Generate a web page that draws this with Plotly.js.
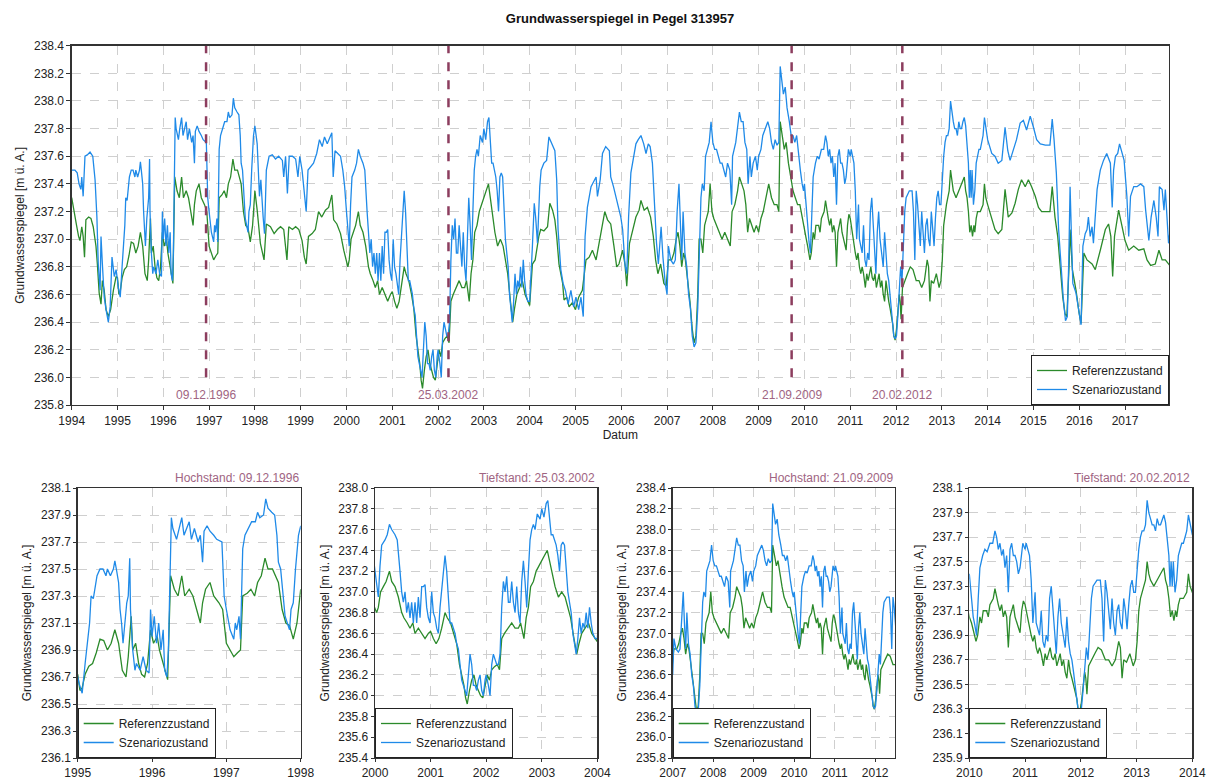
<!DOCTYPE html>
<html><head><meta charset="utf-8">
<script src="https://cdn.plot.ly/plotly-3.0.1.min.js"></script>
<style>html,body{margin:0;padding:0;background:#fff}#chart{width:1212px;height:780px}</style>
</head><body><div id="chart"></div>
<script>
// Szenariozustand (blue): [decimal year, m ü. A.]
const szenariozustand = [
[1994.00,237.50],[1994.07,237.50],[1994.12,237.48],[1994.16,237.40],[1994.20,237.36],[1994.22,237.45],[1994.25,237.31],[1994.29,237.60],[1994.34,237.61],[1994.40,237.63],[1994.46,237.60],[1994.51,237.43],[1994.55,237.16],[1994.58,236.82],[1994.62,236.63],[1994.64,237.02],[1994.67,236.82],[1994.71,236.58],[1994.75,236.49],[1994.80,236.40],[1994.84,236.51],[1994.88,236.87],[1994.93,236.73],[1994.97,236.78],
[1995.02,236.65],[1995.06,236.58],[1995.10,236.80],[1995.13,236.95],[1995.16,237.10],[1995.18,237.30],[1995.21,237.28],[1995.26,237.45],[1995.30,237.50],[1995.34,237.50],[1995.38,237.45],[1995.40,237.50],[1995.44,237.45],[1995.48,237.50],[1995.50,237.56],[1995.52,237.50],[1995.55,237.40],[1995.57,237.20],[1995.59,237.10],[1995.61,236.95],[1995.64,237.15],[1995.66,237.25],[1995.68,237.30],[1995.70,237.58],[1995.71,237.20],[1995.74,236.90],[1995.77,236.75],[1995.79,236.80],[1995.84,236.75],[1995.88,236.85],[1995.92,236.75],[1995.96,236.73],[1995.98,237.20],
[1996.00,237.00],[1996.03,237.15],[1996.06,236.95],[1996.09,237.10],[1996.12,236.90],[1996.15,237.05],[1996.17,236.75],[1996.20,236.70],[1996.22,236.90],[1996.26,237.88],[1996.28,237.80],[1996.33,237.72],[1996.36,237.80],[1996.40,237.88],[1996.43,237.75],[1996.47,237.80],[1996.50,237.85],[1996.53,237.72],[1996.57,237.80],[1996.62,237.70],[1996.65,237.75],[1996.68,237.55],[1996.70,237.78],[1996.74,237.82],[1996.78,237.78],[1996.83,237.75],[1996.87,237.72],[1996.94,237.70],[1996.97,237.30],
[1997.00,237.20],[1997.05,237.05],[1997.10,236.98],[1997.12,237.10],[1997.14,237.05],[1997.17,237.15],[1997.19,236.98],[1997.22,237.65],[1997.25,237.75],[1997.30,237.80],[1997.34,237.85],[1997.39,237.85],[1997.42,237.92],[1997.45,237.88],[1997.50,237.90],[1997.53,238.02],[1997.56,237.95],[1997.61,237.92],[1997.65,237.90],[1997.68,237.75],[1997.70,237.55],[1997.73,237.50],[1997.77,237.30],[1997.79,237.15],[1997.82,237.10],[1997.85,237.05],[1997.87,237.20],[1997.90,237.25],[1997.93,237.50],[1997.97,237.75],
[1998.00,237.82],[1998.05,237.69],[1998.10,237.31],[1998.13,237.43],[1998.18,237.16],[1998.21,237.04],[1998.25,237.50],[1998.31,237.60],[1998.38,237.61],[1998.45,237.58],[1998.52,237.60],[1998.60,237.57],[1998.63,237.45],[1998.67,237.60],[1998.71,237.33],[1998.75,237.60],[1998.82,237.60],[1998.89,237.58],[1998.94,237.45],[1998.98,237.60],
[1999.03,237.50],[1999.08,237.31],[1999.12,237.20],[1999.16,237.50],[1999.21,237.52],[1999.28,237.55],[1999.35,237.62],[1999.41,237.72],[1999.47,237.67],[1999.52,237.74],[1999.58,237.69],[1999.64,237.74],[1999.68,237.77],[1999.71,237.45],[1999.75,237.64],[1999.81,237.62],[1999.87,237.60],[1999.92,237.50],[1999.96,237.38],
[2000.00,237.20],[2000.03,237.05],[2000.06,236.95],[2000.09,237.25],[2000.12,237.45],[2000.18,237.50],[2000.22,237.55],[2000.26,237.65],[2000.30,237.60],[2000.36,237.55],[2000.40,237.50],[2000.45,237.20],[2000.48,237.00],[2000.51,236.90],[2000.54,237.00],[2000.57,236.80],[2000.60,236.90],[2000.63,236.75],[2000.66,236.90],[2000.69,236.70],[2000.72,236.90],[2000.75,236.70],[2000.78,236.95],[2000.81,236.75],[2000.84,237.05],[2000.87,237.05],[2000.90,237.07],[2000.93,236.85],[2000.96,236.75],[2000.99,236.70],
[2001.02,237.00],[2001.05,236.80],[2001.08,236.75],[2001.11,236.65],[2001.14,236.60],[2001.17,236.85],[2001.20,237.00],[2001.23,237.20],[2001.26,237.35],[2001.29,237.20],[2001.32,236.90],[2001.35,236.70],[2001.38,236.70],[2001.41,236.65],[2001.44,236.60],[2001.47,236.50],[2001.50,236.45],[2001.53,236.30],[2001.56,236.15],[2001.59,236.10],[2001.62,236.05],[2001.65,236.00],[2001.68,236.20],[2001.71,236.40],[2001.74,236.30],[2001.77,236.10],[2001.80,236.10],[2001.83,236.05],[2001.86,236.15],[2001.89,236.20],[2001.92,236.05],[2001.95,236.00],[2001.98,236.15],
[2002.00,236.20],[2002.04,236.10],[2002.07,236.00],[2002.10,236.30],[2002.13,236.40],[2002.16,236.35],[2002.19,236.30],[2002.22,236.30],[2002.25,236.40],[2002.28,236.85],[2002.31,237.10],[2002.34,237.00],[2002.37,237.15],[2002.40,236.90],[2002.43,236.90],[2002.46,237.10],[2002.49,236.90],[2002.52,236.80],[2002.55,237.05],[2002.58,236.80],[2002.61,236.70],[2002.64,237.10],[2002.67,237.30],[2002.70,237.10],[2002.73,236.85],[2002.76,237.20],[2002.79,237.50],[2002.82,237.60],[2002.85,237.65],[2002.88,237.60],[2002.92,237.75],[2002.97,237.70],
[2003.00,237.80],[2003.04,237.72],[2003.08,237.85],[2003.11,237.88],[2003.14,237.70],[2003.17,237.55],[2003.20,237.55],[2003.23,237.50],[2003.26,237.45],[2003.29,237.35],[2003.32,237.20],[2003.35,237.45],[2003.38,237.48],[2003.41,237.45],[2003.44,237.20],[2003.47,237.00],[2003.50,236.90],[2003.53,236.80],[2003.56,236.60],[2003.59,236.50],[2003.62,236.40],[2003.65,236.55],[2003.68,236.75],[2003.71,236.60],[2003.74,236.70],[2003.77,236.65],[2003.80,236.80],[2003.83,236.65],[2003.86,236.85],[2003.89,236.70],[2003.92,236.60],[2003.96,236.55],
[2004.00,236.55],[2004.06,236.95],[2004.10,237.26],[2004.13,237.16],[2004.17,236.97],[2004.22,237.38],[2004.25,237.50],[2004.31,237.55],[2004.37,237.57],[2004.42,237.74],[2004.49,237.69],[2004.55,237.64],[2004.59,237.43],[2004.62,237.07],[2004.68,236.78],[2004.73,236.68],[2004.78,236.63],[2004.84,236.53],[2004.90,236.63],[2004.96,236.51],
[2005.01,236.58],[2005.07,236.49],[2005.12,236.58],[2005.17,236.44],[2005.21,237.02],[2005.26,237.23],[2005.34,237.38],[2005.45,237.45],[2005.48,237.31],[2005.54,237.43],[2005.59,237.62],[2005.66,237.67],[2005.74,237.64],[2005.77,237.45],[2005.83,237.38],[2005.88,237.31],[2005.93,237.23],[2005.99,237.16],
[2006.03,237.07],[2006.08,236.82],[2006.12,236.75],[2006.16,237.16],[2006.21,237.48],[2006.27,237.60],[2006.32,237.69],[2006.37,237.72],[2006.43,237.75],[2006.49,237.69],[2006.54,237.62],[2006.59,237.69],[2006.63,237.67],[2006.68,237.55],[2006.72,237.26],[2006.77,236.97],[2006.81,236.82],[2006.87,237.09],[2006.91,236.87],[2006.96,236.68],
[2007.00,236.60],[2007.03,236.95],[2007.08,236.85],[2007.14,236.82],[2007.18,236.85],[2007.22,237.20],[2007.26,237.40],[2007.29,237.10],[2007.32,236.85],[2007.35,237.20],[2007.39,236.90],[2007.43,236.80],[2007.47,236.60],[2007.51,236.50],[2007.55,236.30],[2007.59,236.22],[2007.63,236.25],[2007.67,236.50],[2007.70,236.90],[2007.74,237.30],[2007.77,237.40],[2007.81,237.35],[2007.84,237.60],[2007.88,237.65],[2007.92,237.70],[2007.96,237.85],
[2008.00,237.70],[2008.04,237.65],[2008.08,237.65],[2008.12,237.60],[2008.16,237.55],[2008.20,237.55],[2008.24,237.50],[2008.28,237.45],[2008.32,237.55],[2008.37,237.50],[2008.41,237.25],[2008.43,237.60],[2008.50,237.70],[2008.54,237.80],[2008.58,237.92],[2008.62,237.85],[2008.66,237.85],[2008.70,237.70],[2008.74,237.65],[2008.77,237.40],[2008.81,237.60],[2008.84,237.45],[2008.88,237.55],[2008.93,237.60],[2008.97,237.50],
[2009.00,237.60],[2009.05,237.65],[2009.09,237.75],[2009.14,237.80],[2009.20,237.85],[2009.24,237.80],[2009.28,237.70],[2009.32,237.65],[2009.36,237.72],[2009.40,237.68],[2009.44,237.70],[2009.47,238.25],[2009.51,238.15],[2009.54,238.05],[2009.58,238.10],[2009.62,237.95],[2009.67,237.85],[2009.71,237.75],[2009.75,237.75],[2009.79,237.70],[2009.83,237.75],[2009.87,237.60],[2009.91,237.50],[2009.95,237.40],[2009.98,237.35],
[2010.00,237.40],[2010.04,237.20],[2010.07,237.05],[2010.10,236.98],[2010.13,236.90],[2010.16,237.20],[2010.19,237.45],[2010.24,237.55],[2010.28,237.60],[2010.32,237.58],[2010.37,237.65],[2010.42,237.65],[2010.46,237.75],[2010.49,237.70],[2010.52,237.60],[2010.55,237.65],[2010.58,237.55],[2010.61,237.60],[2010.64,237.45],[2010.67,237.55],[2010.70,237.25],[2010.73,237.60],[2010.76,237.65],[2010.79,237.55],[2010.82,237.55],[2010.85,237.50],[2010.88,237.40],[2010.91,237.45],[2010.94,237.60],[2010.96,237.65],
[2011.00,237.60],[2011.02,237.65],[2011.05,237.60],[2011.08,237.55],[2011.11,237.35],[2011.14,237.00],[2011.18,237.25],[2011.20,237.00],[2011.23,236.95],[2011.26,236.90],[2011.29,237.10],[2011.32,236.85],[2011.35,236.80],[2011.38,236.90],[2011.41,236.85],[2011.44,237.20],[2011.47,237.30],[2011.50,237.10],[2011.53,236.90],[2011.56,236.75],[2011.59,237.05],[2011.62,237.20],[2011.65,237.00],[2011.68,236.90],[2011.72,236.80],[2011.75,237.05],[2011.78,236.85],[2011.81,236.75],[2011.84,236.70],[2011.87,236.60],[2011.90,236.50],[2011.93,236.40],[2011.95,236.30],[2011.98,236.28],
[2012.01,236.30],[2012.04,236.45],[2012.07,236.65],[2012.10,236.80],[2012.13,236.70],[2012.16,237.00],[2012.19,237.20],[2012.22,237.30],[2012.29,237.35],[2012.35,237.35],[2012.38,237.20],[2012.41,236.85],[2012.44,237.35],[2012.47,237.25],[2012.50,237.10],[2012.53,236.95],[2012.56,237.20],[2012.59,237.00],[2012.62,236.90],[2012.65,237.10],[2012.68,237.15],[2012.71,237.00],[2012.74,236.95],[2012.77,237.20],[2012.80,237.10],[2012.83,236.95],[2012.86,237.15],[2012.89,237.30],[2012.92,237.35],[2012.95,237.25],[2012.98,237.25],
[2013.01,237.45],[2013.04,237.60],[2013.07,237.70],[2013.10,237.75],[2013.13,237.75],[2013.16,237.80],[2013.19,238.00],[2013.22,237.90],[2013.25,237.85],[2013.28,237.80],[2013.31,237.80],[2013.34,237.75],[2013.37,237.85],[2013.40,237.80],[2013.43,237.80],[2013.46,237.85],[2013.49,237.88],[2013.52,237.82],[2013.55,237.70],[2013.58,237.55],[2013.60,237.30],[2013.62,237.50],[2013.64,237.30],[2013.66,237.50],[2013.69,237.25],[2013.72,237.35],[2013.75,237.55],[2013.78,237.60],[2013.81,237.65],[2013.84,237.65],[2013.87,237.70],[2013.90,237.75],[2013.93,237.88],[2013.96,237.80],
[2014.00,237.72],[2014.09,237.62],[2014.16,237.60],[2014.23,237.55],[2014.31,237.57],[2014.38,237.81],[2014.44,237.64],[2014.49,237.57],[2014.56,237.64],[2014.63,237.72],[2014.71,237.84],[2014.78,237.86],[2014.85,237.79],[2014.93,237.89],
[2015.00,237.81],[2015.07,237.72],[2015.15,237.69],[2015.26,237.68],[2015.36,237.68],[2015.41,237.87],[2015.45,237.72],[2015.50,237.48],[2015.55,237.07],[2015.60,236.78],[2015.65,236.58],[2015.70,236.41],[2015.74,236.44],[2015.77,236.82],[2015.80,237.38],[2015.83,237.02],[2015.86,236.68],[2015.93,236.61],
[2016.00,236.46],[2016.04,236.38],[2016.08,236.95],[2016.13,237.04],[2016.17,237.07],[2016.20,237.16],[2016.24,237.02],[2016.28,237.09],[2016.31,236.97],[2016.35,237.16],[2016.39,237.36],[2016.46,237.50],[2016.53,237.57],[2016.60,237.62],[2016.68,237.55],[2016.72,237.23],[2016.75,237.50],[2016.79,237.60],[2016.84,237.62],[2016.88,237.69],[2016.93,237.62],[2016.98,237.57],
[2017.04,237.31],[2017.08,237.02],[2017.12,237.31],[2017.19,237.38],[2017.26,237.38],[2017.34,237.40],[2017.41,237.38],[2017.45,237.21],[2017.52,236.99],[2017.57,237.16],[2017.63,237.28],[2017.68,237.16],[2017.72,237.02],[2017.75,237.38],[2017.81,237.36],[2017.85,237.21],[2017.88,237.36],[2017.92,237.07],[2017.95,236.97],[2018.00,237.11]
];

// Referenzzustand (green): [decimal year, m ü. A.]
const referenzzustand = [
[1994.00,237.30],[1994.04,237.21],[1994.10,237.11],[1994.15,237.02],[1994.18,236.99],[1994.22,237.09],[1994.25,237.02],[1994.28,236.87],[1994.31,237.14],[1994.37,237.16],[1994.42,237.15],[1994.47,237.09],[1994.53,236.95],[1994.56,236.82],[1994.60,236.61],[1994.64,236.53],[1994.67,236.70],[1994.71,236.63],[1994.75,236.49],[1994.80,236.44],[1994.85,236.49],[1994.91,236.63],[1994.97,236.73],
[1995.00,236.72],[1995.03,236.60],[1995.06,236.62],[1995.10,236.72],[1995.15,236.78],[1995.20,236.80],[1995.25,236.88],[1995.30,236.98],[1995.35,236.97],[1995.40,236.90],[1995.45,236.95],[1995.50,237.05],[1995.55,236.95],[1995.60,236.75],[1995.65,236.70],[1995.68,236.85],[1995.72,237.15],[1995.74,236.90],[1995.78,236.95],[1995.82,236.80],[1995.86,236.72],[1995.90,236.70],[1995.94,236.80],[1995.98,237.05],
[1996.02,236.95],[1996.07,237.00],[1996.10,236.90],[1996.15,236.80],[1996.18,236.72],[1996.21,236.68],[1996.25,237.45],[1996.30,237.35],[1996.35,237.30],[1996.40,237.45],[1996.44,237.30],[1996.50,237.35],[1996.55,237.30],[1996.60,237.20],[1996.65,237.10],[1996.68,237.25],[1996.72,237.35],[1996.78,237.40],[1996.83,237.30],[1996.90,237.25],[1996.95,237.20],
[1997.00,236.95],[1997.05,236.90],[1997.10,236.85],[1997.15,236.88],[1997.19,236.90],[1997.22,237.30],[1997.28,237.32],[1997.33,237.35],[1997.38,237.30],[1997.42,237.40],[1997.47,237.45],[1997.52,237.58],[1997.56,237.50],[1997.62,237.50],[1997.66,237.45],[1997.70,237.40],[1997.75,237.20],[1997.80,237.10],[1997.85,237.08],[1997.90,236.98],[1997.95,237.10],
[1998.00,237.35],[1998.05,237.21],[1998.12,236.97],[1998.20,236.85],[1998.25,237.11],[1998.34,237.09],[1998.42,237.04],[1998.49,237.07],[1998.56,237.09],[1998.63,237.07],[1998.68,236.92],[1998.70,236.85],[1998.74,237.09],[1998.82,237.07],[1998.89,237.09],[1998.96,237.07],
[1999.03,236.99],[1999.08,236.87],[1999.12,236.82],[1999.17,237.02],[1999.25,237.04],[1999.32,237.07],[1999.39,237.20],[1999.46,237.16],[1999.54,237.21],[1999.61,237.23],[1999.68,237.32],[1999.72,237.14],[1999.79,237.11],[1999.87,237.04],[1999.94,236.92],
[2000.00,236.85],[2000.03,236.80],[2000.06,236.85],[2000.10,237.00],[2000.15,237.05],[2000.20,237.10],[2000.26,237.20],[2000.30,237.10],[2000.36,237.05],[2000.42,236.95],[2000.48,236.80],[2000.52,236.75],[2000.58,236.70],[2000.63,236.65],[2000.68,236.70],[2000.72,236.60],[2000.78,236.65],[2000.84,236.60],[2000.90,236.55],[2000.96,236.60],
[2001.00,236.62],[2001.05,236.55],[2001.10,236.50],[2001.15,236.55],[2001.20,236.65],[2001.26,236.80],[2001.30,236.75],[2001.36,236.70],[2001.42,236.60],[2001.47,236.50],[2001.52,236.30],[2001.56,236.20],[2001.60,236.10],[2001.63,235.98],[2001.66,235.92],[2001.70,236.05],[2001.74,236.15],[2001.78,236.20],[2001.82,236.10],[2001.86,236.05],[2001.90,236.00],[2001.94,235.98],[2001.98,236.10],
[2002.02,236.20],[2002.06,236.15],[2002.10,236.25],[2002.15,236.28],[2002.20,236.30],[2002.24,236.25],[2002.28,236.55],[2002.33,236.60],[2002.40,236.65],[2002.46,236.70],[2002.52,236.65],[2002.58,236.65],[2002.62,236.70],[2002.66,236.60],[2002.68,236.55],[2002.72,236.75],[2002.76,236.85],[2002.80,237.05],[2002.85,237.10],[2002.90,237.20],[2002.95,237.25],
[2003.00,237.30],[2003.05,237.35],[2003.10,237.40],[2003.14,237.30],[2003.18,237.20],[2003.24,237.05],[2003.30,236.95],[2003.36,237.00],[2003.42,236.95],[2003.47,236.85],[2003.52,236.75],[2003.58,236.55],[2003.63,236.40],[2003.67,236.50],[2003.72,236.60],[2003.78,236.65],[2003.84,236.70],[2003.90,236.60],[2003.96,236.55],
[2004.00,236.52],[2004.06,236.82],[2004.12,236.85],[2004.20,237.02],[2004.24,237.07],[2004.31,237.06],[2004.39,237.09],[2004.44,237.26],[2004.50,237.21],[2004.55,237.14],[2004.59,237.02],[2004.64,236.82],[2004.72,236.68],[2004.75,236.56],[2004.81,236.58],[2004.86,236.51],[2004.93,236.54],
[2005.00,236.49],[2005.07,236.58],[2005.15,236.63],[2005.23,236.85],[2005.30,236.87],[2005.37,236.92],[2005.45,236.85],[2005.52,236.97],[2005.59,237.11],[2005.64,237.20],[2005.70,237.14],[2005.77,237.11],[2005.84,236.95],[2005.90,236.80],[2005.95,236.82],
[2006.03,236.92],[2006.08,236.82],[2006.12,236.66],[2006.18,236.97],[2006.25,237.07],[2006.32,237.16],[2006.39,237.21],[2006.43,237.28],[2006.50,237.21],[2006.57,237.23],[2006.64,237.16],[2006.70,237.02],[2006.75,236.85],[2006.80,236.75],[2006.86,236.82],[2006.93,236.68],[2006.98,236.66],
[2007.03,236.85],[2007.10,236.85],[2007.15,236.90],[2007.20,237.00],[2007.24,237.05],[2007.28,236.95],[2007.32,236.80],[2007.36,236.90],[2007.40,236.85],[2007.45,236.70],[2007.50,236.55],[2007.55,236.35],[2007.59,236.25],[2007.63,236.30],[2007.67,236.60],[2007.70,237.00],[2007.74,237.00],[2007.78,236.90],[2007.82,237.10],[2007.86,237.15],[2007.90,237.20],[2007.94,237.40],[2007.98,237.20],
[2008.02,237.15],[2008.08,237.10],[2008.14,237.05],[2008.20,237.00],[2008.26,237.05],[2008.32,237.00],[2008.38,236.95],[2008.42,237.20],[2008.48,237.25],[2008.54,237.35],[2008.58,237.45],[2008.63,237.40],[2008.68,237.35],[2008.72,237.25],[2008.76,237.05],[2008.80,237.15],[2008.85,237.10],[2008.90,237.05],[2008.95,237.10],
[2009.00,237.05],[2009.05,237.15],[2009.10,237.20],[2009.16,237.30],[2009.22,237.40],[2009.28,237.30],[2009.34,237.25],[2009.40,237.25],[2009.44,237.20],[2009.47,237.85],[2009.52,237.75],[2009.56,237.65],[2009.60,237.70],[2009.65,237.55],[2009.70,237.45],[2009.75,237.35],[2009.80,237.30],[2009.85,237.25],[2009.90,237.25],[2009.95,237.15],
[2010.00,237.05],[2010.04,237.00],[2010.07,236.95],[2010.12,236.85],[2010.15,236.90],[2010.19,237.05],[2010.22,237.00],[2010.25,237.10],[2010.31,237.10],[2010.34,237.05],[2010.37,237.15],[2010.43,237.20],[2010.46,237.28],[2010.49,237.20],[2010.52,237.15],[2010.55,237.10],[2010.58,237.15],[2010.61,237.05],[2010.64,237.10],[2010.67,237.05],[2010.70,236.80],[2010.73,237.05],[2010.76,237.10],[2010.79,237.15],[2010.82,237.05],[2010.85,237.00],[2010.88,236.95],[2010.91,236.92],[2010.94,237.10],[2010.97,237.18],
[2011.00,237.15],[2011.02,237.10],[2011.05,237.05],[2011.08,236.95],[2011.11,236.90],[2011.14,236.85],[2011.17,236.90],[2011.20,236.80],[2011.23,236.75],[2011.26,236.80],[2011.29,236.75],[2011.33,236.65],[2011.36,236.75],[2011.39,236.70],[2011.42,236.75],[2011.45,236.80],[2011.48,236.72],[2011.51,236.70],[2011.54,236.75],[2011.57,236.65],[2011.60,236.70],[2011.63,236.75],[2011.66,236.65],[2011.69,236.70],[2011.72,236.60],[2011.75,236.55],[2011.78,236.70],[2011.81,236.60],[2011.84,236.55],[2011.87,236.50],[2011.90,236.45],[2011.93,236.38],[2011.95,236.30],[2011.98,236.27],
[2012.01,236.35],[2012.04,236.50],[2012.07,236.60],[2012.09,236.55],[2012.11,236.42],[2012.14,236.65],[2012.19,236.70],[2012.25,236.75],[2012.31,236.80],[2012.37,236.78],[2012.44,236.70],[2012.50,236.70],[2012.56,236.65],[2012.62,236.70],[2012.68,236.85],[2012.71,236.80],[2012.74,236.55],[2012.77,236.70],[2012.82,236.68],[2012.88,236.75],[2012.91,236.70],[2012.94,236.65],[2012.98,236.70],
[2013.01,236.85],[2013.04,237.10],[2013.07,237.20],[2013.10,237.25],[2013.13,237.30],[2013.16,237.35],[2013.19,237.50],[2013.22,237.40],[2013.25,237.35],[2013.31,237.30],[2013.37,237.35],[2013.43,237.40],[2013.49,237.45],[2013.52,237.35],[2013.55,237.30],[2013.58,237.20],[2013.61,237.05],[2013.64,237.10],[2013.67,237.02],[2013.70,237.10],[2013.72,237.05],[2013.75,237.15],[2013.78,237.20],[2013.84,237.20],[2013.90,237.25],[2013.93,237.40],[2013.96,237.30],
[2014.00,237.25],[2014.09,237.14],[2014.16,237.07],[2014.23,237.04],[2014.31,237.07],[2014.38,237.36],[2014.45,237.16],[2014.53,237.19],[2014.60,237.26],[2014.67,237.36],[2014.74,237.43],[2014.82,237.38],[2014.89,237.43],[2014.96,237.38],
[2015.04,237.31],[2015.11,237.23],[2015.18,237.20],[2015.26,237.20],[2015.36,237.20],[2015.41,237.38],[2015.47,237.16],[2015.53,237.02],[2015.58,236.82],[2015.64,236.58],[2015.69,236.46],[2015.73,236.44],[2015.78,236.82],[2015.80,237.07],[2015.85,236.78],[2015.93,236.63],
[2016.00,236.46],[2016.04,236.39],[2016.10,236.90],[2016.17,236.85],[2016.28,236.82],[2016.35,236.78],[2016.46,236.92],[2016.57,237.07],[2016.64,237.11],[2016.69,237.02],[2016.73,236.73],[2016.77,237.02],[2016.86,237.21],[2016.93,237.11],
[2017.00,236.99],[2017.08,236.92],[2017.19,236.95],[2017.30,236.92],[2017.41,236.93],[2017.48,236.85],[2017.56,236.81],[2017.66,236.82],[2017.74,236.92],[2017.81,236.85],[2017.88,236.85],[2018.00,236.80]
];

const seriesNames = ['Referenzzustand', 'Szenariozustand'];
const eventDates = [1996.934, 2002.227, 2009.72, 2012.137];
const eventLabels = ['09.12.1996', '25.03.2002', '21.09.2009', '20.02.2012'];
const panelTitles = ['Hochstand: 09.12.1996', 'Tiefstand: 25.03.2002', 'Hochstand: 21.09.2009', 'Tiefstand: 20.02.2012'];
const chartTitle = 'Grundwasserspiegel in Pegel 313957';
const yTitle = 'Grundwasserspiegel [m ü. A.]';
const xTitle = 'Datum';

// ---- layout (pixels in a 1212x780 page) ----
const W = 1212, H = 780;
const GREEN = '#2b8a2b', BLUE = '#1f8ae8', EVENT = '#8c3d5e', EVENT_TXT = '#a06482';
const panels = [
  {x: [71.7, 1169], y: [45.7, 405], xr: [1994, 2017.96], yr: [235.8, 238.4], t0: 235.8},
  {x: [77.7, 300.7], y: [488, 758], xr: [1995, 1998], yr: [236.1, 238.1], t0: 236.1},
  {x: [375, 597.3], y: [488, 758], xr: [2000, 2004], yr: [235.4, 238.0], t0: 235.4},
  {x: [672.7, 895], y: [488, 758], xr: [2007, 2012.49], yr: [235.8, 238.4], t0: 235.8},
  {x: [969.3, 1192.3], y: [488, 758], xr: [2010, 2014], yr: [235.9, 238.1], t0: 235.9}
];
const px = v => v / W, py = v => 1 - v / H;
const FONT = 'Liberation Sans, Arial, sans-serif';

const refX = referenzzustand.map(p => p[0]), refY = referenzzustand.map(p => p[1]);
const szX = szenariozustand.map(p => p[0]), szY = szenariozustand.map(p => p[1]);

const data = [];
const layout = {
  width: W, height: H, autosize: false,
  margin: {l: 0, r: 0, t: 0, b: 0},
  paper_bgcolor: '#fff', plot_bgcolor: '#fff',
  font: {family: FONT, size: 12, color: '#222'},
  title: {text: '<b>' + chartTitle + '</b>', x: 620 / W, xanchor: 'center', y: py(18), yanchor: 'middle',
          font: {family: FONT, size: 13, color: '#111'}},
  shapes: [], annotations: []
};

panels.forEach((p, i) => {
  const sfx = i === 0 ? '' : String(i + 1);
  const lg = 'legend' + sfx;
  data.push({x: refX, y: refY, type: 'scatter', mode: 'lines', name: seriesNames[0],
             line: {color: GREEN, width: 1.3}, xaxis: 'x' + sfx, yaxis: 'y' + sfx, legend: lg});
  data.push({x: szX, y: szY, type: 'scatter', mode: 'lines', name: seriesNames[1],
             line: {color: BLUE, width: 1.3}, xaxis: 'x' + sfx, yaxis: 'y' + sfx, legend: lg});
  const common = {showline: true, mirror: true, linecolor: '#333', linewidth: 1.3,
                  ticks: 'outside', ticklen: i === 0 ? 4 : 3, tickcolor: '#333', zeroline: false,
                  showgrid: true, gridcolor: '#cfcfcf', griddash: 'dash', gridwidth: 1,
                  tickfont: {family: FONT, size: 12, color: '#222'}};
  layout['xaxis' + sfx] = Object.assign({}, common, {
    domain: [px(p.x[0]), px(p.x[1])], range: p.xr, anchor: 'y' + sfx,
    dtick: 1, tick0: 1994, tickformat: 'd',
    title: i === 0 ? {text: xTitle, font: {family: FONT, size: 12}, standoff: 4} : {text: ''}
  });
  layout['yaxis' + sfx] = Object.assign({}, common, {
    domain: [py(p.y[1]), py(p.y[0])], range: p.yr, anchor: 'x' + sfx,
    dtick: 0.2, tick0: p.t0, tickformat: '.1f',
    title: {text: yTitle, font: {family: FONT, size: 12}, standoff: 6}
  });
  const legendBase = {bgcolor: '#fff', bordercolor: '#222', borderwidth: 1,
                      font: {family: FONT, size: 12, color: '#222'}, tracegroupgap: 0,
                      itemwidth: 30, orientation: 'v'};
  if (i === 0) {
    layout[lg] = Object.assign({}, legendBase, {x: px(p.x[1]), xanchor: 'right', y: py(p.y[1]), yanchor: 'bottom'});
  } else {
    layout[lg] = Object.assign({}, legendBase, {x: px(p.x[0]), xanchor: 'left', y: py(p.y[1]), yanchor: 'bottom'});
    layout.annotations.push({xref: 'paper', yref: 'paper', x: px(p.x[1]), y: py(p.y[0] - 1), xanchor: 'right', yanchor: 'bottom',
      text: panelTitles[i - 1], showarrow: false, font: {family: FONT, size: 12, color: EVENT_TXT}});
  }
});

eventDates.forEach((d, k) => {
  layout.shapes.push({type: 'line', xref: 'x', yref: 'y', x0: d, x1: d, y0: 236.0, y1: 238.4,
                      line: {color: EVENT, width: 2.5, dash: 'dash'}});
  layout.annotations.push({xref: 'x', yref: 'y', x: d, y: 235.875, text: eventLabels[k], showarrow: false,
                           xanchor: 'center', yanchor: 'middle', font: {family: FONT, size: 12, color: EVENT_TXT}});
});

Plotly.newPlot('chart', data, layout, {staticPlot: true, displayModeBar: false});
</script>
</body></html>
